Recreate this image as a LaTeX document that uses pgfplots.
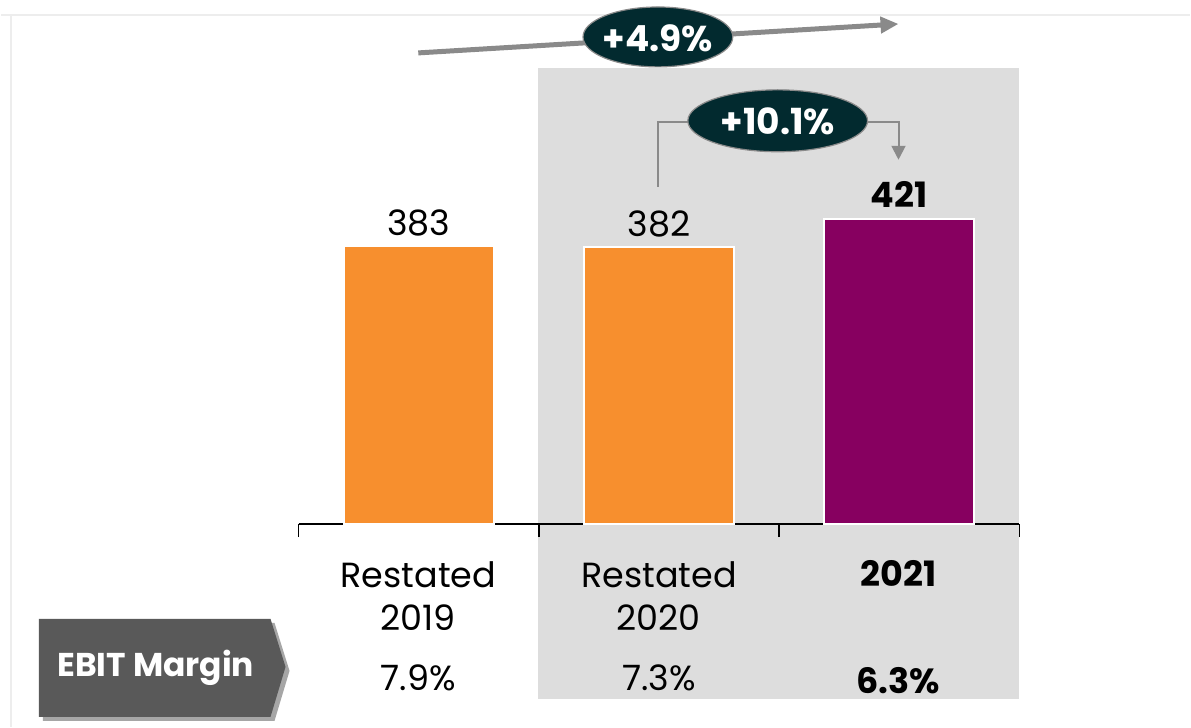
\documentclass[border=0pt]{standalone}
\usepackage{pgfplots}
\pgfplotsset{compat=1.18}
\usepackage{fontspec}
\setmainfont{Poppins}
\usetikzlibrary{arrows.meta}
\definecolor{orangebar}{HTML}{F78F2E}
\definecolor{purplebar}{HTML}{870060}
\definecolor{bggray}{HTML}{DDDDDD}
\definecolor{darkteal}{HTML}{022A2F}
\definecolor{boxgray}{HTML}{595959}
\definecolor{arrowgray}{HTML}{8A8A8A}
\begin{document}
\begin{tikzpicture}
\begin{scope}[x=0.5pt,y=0.5pt]
\fill[white] (0,0) rectangle (1191,728);
\draw[black!7, line width=1pt] (0,713) -- (1191,713);
\draw[black!7, line width=1pt] (10,713) -- (10,0);
\fill[bggray] (538,28) rectangle (1020,660);
\end{scope}
\begin{axis}[
  at={(149pt,101.5pt)}, anchor=south west, scale only axis,
  width=361pt, height=262.5pt,
  xmin=-0.5, xmax=2.5, ymin=0, ymax=723,
  axis x line=bottom, axis y line=none,
  axis line style={-, black, line width=0.8pt},
  xtick={-0.5,0.5,1.5,2.5}, xticklabels={},
  tick align=outside, major tick length=6.5pt,
  tick style={black, line width=0.8pt},
  clip=false,
  /pgf/number format/assume math mode=true,
]
\addplot[ybar, bar width=75pt, fill=orangebar, draw=white, line width=1pt,
  nodes near coords,
  every node near coord/.append style={anchor=base, yshift=5.5pt, text=black, font=\fontsize{17.5}{20}\selectfont}]
  coordinates {(0,383) (1,382)};
\addplot[ybar, bar width=75pt, fill=purplebar, draw=white, line width=1pt,
  nodes near coords,
  every node near coord/.append style={anchor=base, yshift=5.5pt, text=black, font=\fontsize{17.5}{20}\selectfont\bfseries}]
  coordinates {(2,421)};
\end{axis}
\begin{scope}[x=0.5pt,y=0.5pt]
% category labels
\begin{scope}[every node/.style={anchor=base, inner sep=0pt, font=\fontsize{17.5}{20}\selectfont}]
\node at (418,140) {Restated};
\node at (418,96) {2019};
\node at (659,140) {Restated};
\node at (659,96) {2020};
\node[font=\fontsize{17.5}{20}\selectfont\bfseries] at (899,141) {2021};
\node at (418,36) {7.9\%};
\node at (659,36) {7.3\%};
\node[font=\fontsize{17.5}{20}\selectfont\bfseries] at (899,33) {6.3\%};
\end{scope}
% EBIT margin box
\fill[black!35] (42,104) -- (274,104) -- (289,56) -- (274,6) -- (42,6) -- cycle;
\fill[boxgray] (38,108) -- (270,108) -- (285,60) -- (270,10) -- (38,10) -- cycle;
\node[text=white, font=\fontsize{16.5}{19}\selectfont\bfseries] at (155,59) {EBIT Margin};
% top CAGR arrow
\draw[arrowgray, line width=2.5pt, -{Triangle[length=9pt,width=8pt]}] (418,675) -- (899,704);
\draw[arrowgray, fill=darkteal, line width=0.6pt] (658,691) ellipse [x radius=75, y radius=30];
\node[text=white, font=\fontsize{18}{21}\selectfont\bfseries] at (658,690) {+4.9\%};
% yoy arrow
\draw[arrowgray, line width=1pt, -{Triangle[length=7pt,width=7pt]}] (658,541) -- (658,606) -- (899,606) -- (899,568);
\draw[arrowgray, fill=darkteal, line width=0.6pt] (778,607) ellipse [x radius=90, y radius=31];
\node[text=white, font=\fontsize{18}{21}\selectfont\bfseries] at (778,606) {+10.1\%};
\end{scope}
\end{tikzpicture}
\end{document}
